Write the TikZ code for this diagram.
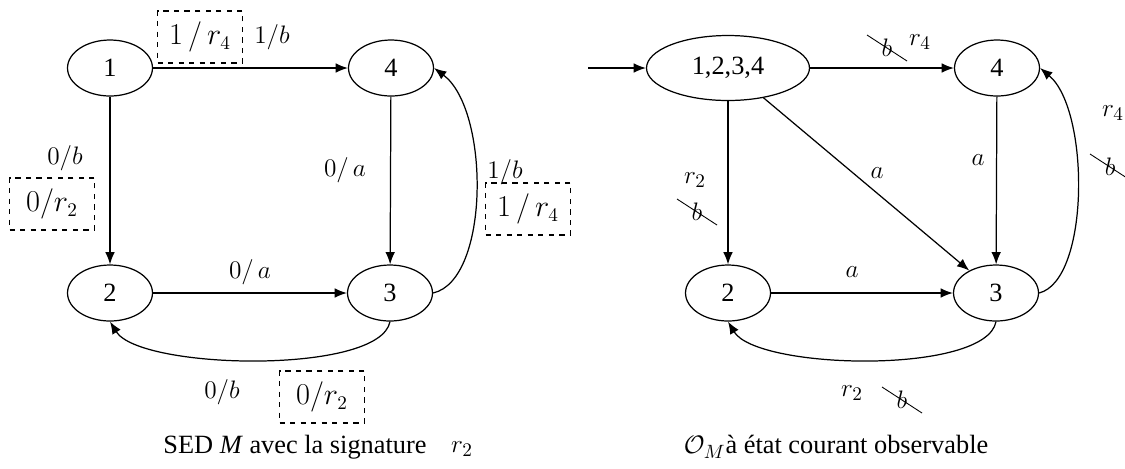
\documentclass[tikz,border=0pt]{standalone}
\usepackage{fontspec}
\setmainfont{Liberation Serif}
\newfontfamily\timesfont{Liberation Serif}
\usetikzlibrary{shapes}
\usetikzlibrary{calc,arrows.meta}

\tikzset{
  etat/.style={draw, ellipse, minimum width=1.7cm, minimum height=1.12cm,
    inner sep=0pt, font=\timesfont\fontsize{15}{17}\selectfont},
  lbl/.style={inner sep=1pt, font=\fontsize{14}{16}\selectfont},
  sigbox/.style={draw, dashed, minimum width=1.7cm, minimum height=1.04cm,
    inner sep=0pt, font=\fontsize{16}{18}\selectfont},
  caption/.style={inner sep=0pt, font=\timesfont\fontsize{15}{17}\selectfont},
}

% unobservable event: a struck-out b
\newcommand{\strikeb}[2]{%
  \node[lbl] (#1) at #2 {$b$};
  \draw[line width=0.5pt] ($(#1.center)+(-20,-13)$) -- ($(#1.center)+(20,13)$);}

\begin{document}
\begin{tikzpicture}[x=0.02cm, y=-0.02cm, line width=0.7pt, ->,
    >={Latex[length=7pt,width=5.5pt]}]
  \useasboundingbox (0,0) rectangle (1125,468);

  % Left automaton: the states
  \node[etat] (n1) at (110,68) {1};
  \node[etat] (n4) at (391,68) {4};
  \node[etat] (n2) at (110,293) {2};
  \node[etat] (n3) at (390,293) {3};

  % Left automaton: transitions
  \draw (n1) -- (n4);
  \draw (n1) -- (n2);
  \draw (n4) -- (n3);
  \draw (n2) -- (n3);
  \draw (n3.east) .. controls (490,280) and (490,110) .. (n4.east);
  \draw (n3.south) .. controls (380,375) and (140,370) .. (n2.south);

  % Left automaton: outputs and signatures
  \node[sigbox] (s14) at (200,37) {$1\,/\,r_4$};
  \node[lbl] (o14) at (272,37) {$1/b$};
  \node[lbl] (o12) at (65,158) {$0/b$};
  \node[sigbox] (s12) at (52,204) {$0/r_2$};
  \node[lbl] (o43) at (345,170) {$0/\,a$};
  \node[lbl] (o34) at (505,172) {$1/b$};
  \node[sigbox] (s34) at (528,209) {$1\,/\,r_4$};
  \node[lbl] (o23) at (250,272) {$0/\,a$};
  \node[lbl] (o32) at (222,392) {$0/b$};
  \node[sigbox] (s32) at (322,397) {$0/r_2$};

  % Right automaton: the states
  \node[etat, minimum width=3.26cm, minimum height=1.3cm] (m1) at (728,68) {1,2,3,4};
  \node[etat] (m4) at (997,68) {4};
  \node[etat] (m2) at (728,293) {2};
  \node[etat] (m3) at (996,293) {3};
  \coordinate (init) at (588,68);

  % Right automaton: transitions
  \draw (init) -- (m1);
  \draw (m1) -- (m4);
  \draw (m1) -- (m2);
  \draw (m1) -- (m3);
  \draw (m4) -- (m3);
  \draw (m2) -- (m3);
  \draw (m3.east) .. controls (1090,280) and (1090,110) .. (m4.east);
  \draw (m3.south) .. controls (986,375) and (757,370) .. (m2.south);

  % Right automaton: labels
  \begin{scope}[-]
    \strikeb{b14}{(887,48)}
    \node[lbl, font=\fontsize{15}{17}\selectfont] (r14) at (920,42) {$r_4$};
    \node[lbl, font=\fontsize{15}{17}\selectfont] (r12) at (695,180) {$r_2$};
    \strikeb{b12}{(697,212)}
    \node[lbl] (a13) at (877,173) {$a$};
    \node[lbl] (a43) at (978,160) {$a$};
    \node[lbl] (a23) at (852,272) {$a$};
    \node[lbl, font=\fontsize{15}{17}\selectfont] (r34) at (1113,113) {$r_4$};
    \strikeb{b34}{(1110,167)}
    \node[lbl, font=\fontsize{15}{17}\selectfont] (r32) at (852,393) {$r_2$};
    \strikeb{b32}{(902,400)}
  \end{scope}

  % Captions
  \node[caption] (capl) at (295,447) {SED \textit{M} avec la signature};
  \node[caption] (capr) at (462,449) {$r_2$};
  \node[caption] (capo) at (836,447) {$\mathcal{O}_M$à état courant observable};
\end{tikzpicture}
\end{document}
